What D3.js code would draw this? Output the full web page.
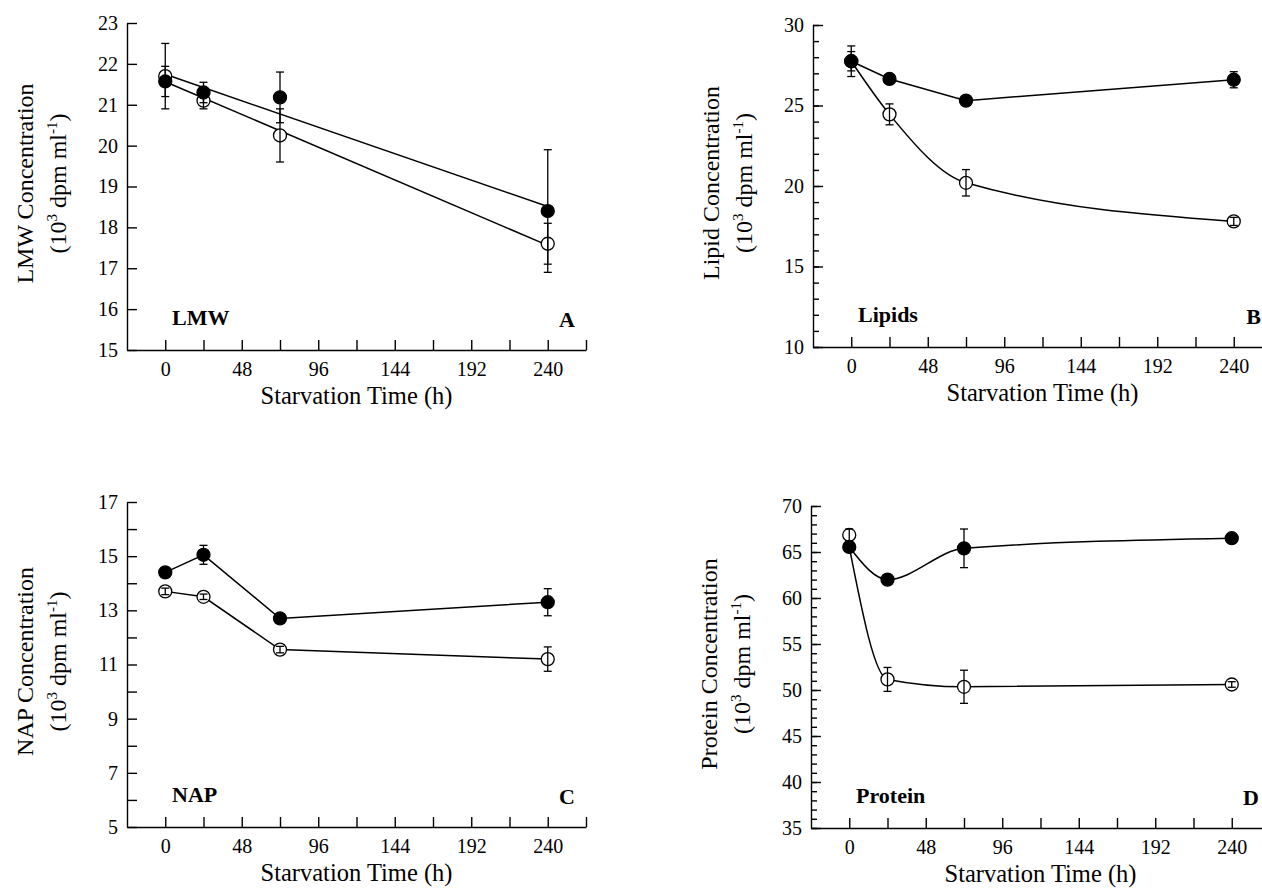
<!DOCTYPE html>
<html>
<head>
<meta charset="utf-8">
<script src="https://cdn.jsdelivr.net/npm/d3@7"></script>
<style>
body { margin: 0; background: #fff; }
svg text { font-family: "Liberation Serif", "Times New Roman", "DejaVu Serif", serif; fill: #000; }
</style>
</head>
<body>
<script>
// sampling times (h)
var times = [0, 24, 72, 240];
// x ticks every 24 h, labels every 48 h
var xTicks = [0, 24, 48, 72, 96, 120, 144, 168, 192, 216, 240, 264];
var xTickLabels = [0, 48, 96, 144, 192, 240];

// A - LMW
var lmwFilled    = [21.57, 21.3, 21.18, 18.4];
var lmwFilledErr = [0.37, 0.25, 0.62, 1.5];
var lmwOpen      = [21.7, 21.1, 20.25, 17.6];
var lmwOpenErr   = [0.8, 0.2, 0.65, 0.5];
var lmwTicks     = [15, 16, 17, 18, 19, 20, 21, 22, 23];

// B - Lipids
var lipFilled    = [27.75, 26.65, 25.3, 26.6];
var lipFilledErr = [0.95, 0.15, 0.2, 0.5];
var lipOpen      = [27.75, 24.45, 20.2, 17.8];
var lipOpenErr   = [0.6, 0.65, 0.82, 0.25];
var lipTicks     = [10, 15, 20, 25, 30];
var lipMinor     = d3.range(10, 31, 1);

// C - NAP
var napFilled    = [14.4, 15.05, 12.7, 13.3];
var napFilledErr = [0.15, 0.35, 0.15, 0.5];
var napOpen      = [13.7, 13.5, 11.55, 11.2];
var napOpenErr   = [0.12, 0.1, 0.12, 0.45];
var napTicks     = [5, 6, 7, 8, 9, 10, 11, 12, 13, 14, 15, 16, 17];
var napTickLabels = [5, 7, 9, 11, 13, 15, 17];

// D - Protein
var proFilled    = [65.55, 62.0, 65.4, 66.5];
var proFilledErr = [0.4, 0.4, 2.1, 0.3];
var proOpen      = [66.85, 51.15, 50.35, 50.6];
var proOpenErr   = [0.65, 1.3, 1.8, 0.3];
var proTicks     = [35, 40, 45, 50, 55, 60, 65, 70];
var proMinor     = d3.range(35, 71, 1);

var panels = [
  { name: "LMW", letter: "A", title: "LMW", filled: lmwFilled, filledErr: lmwFilledErr,
    open: lmwOpen, openErr: lmwOpenErr, ticks: lmwTicks, labels: lmwTicks, minor: null,
    domain: [15, 23], lineFilled: "fit", lineOpen: "fit", left: 127, top: 23, bottom: 350 },
  { name: "Lipids", letter: "B", title: "Lipid", filled: lipFilled, filledErr: lipFilledErr,
    open: lipOpen, openErr: lipOpenErr, ticks: lipTicks, labels: lipTicks, minor: lipMinor,
    domain: [10, 30], lineFilled: "linear", lineOpen: "smooth", left: 813, top: 25, bottom: 347 },
  { name: "NAP", letter: "C", title: "NAP", filled: napFilled, filledErr: napFilledErr,
    open: napOpen, openErr: napOpenErr, ticks: napTicks, labels: napTickLabels, minor: null,
    domain: [5, 17], lineFilled: "linear", lineOpen: "linear", left: 127, top: 502, bottom: 827 },
  { name: "Protein", letter: "D", title: "Protein", filled: proFilled, filledErr: proFilledErr,
    open: proOpen, openErr: proOpenErr, ticks: proTicks, labels: proTicks, minor: proMinor,
    domain: [35, 70], lineFilled: "smooth", lineOpen: "smooth", sharedStart: true,
    left: 811, top: 506, bottom: 828 }
];

var plotW = 459;
var serif = "Liberation Serif, Times New Roman, DejaVu Serif, serif";

var svg = d3.select("body").append("svg")
  .attr("width", 1262)
  .attr("height", 888)
  .attr("font-family", serif);

// least squares line over the sampled points
function regression(xs, ys) {
  var mx = d3.mean(xs), my = d3.mean(ys);
  var sxy = d3.sum(xs, function(v, i) { return (v - mx) * (ys[i] - my); });
  var sxx = d3.sum(xs, function(v) { return (v - mx) * (v - mx); });
  var b = sxy / sxx;
  return function(t) { return my + b * (t - mx); };
}

function drawPanel(p) {
  var g = svg.append("g");
  var x = d3.scaleLinear().domain([-24, 264]).range([p.left, p.left + plotW]);
  var y = d3.scaleLinear().domain(p.domain).range([p.bottom, p.top]);

  // minor y ticks
  if (p.minor) {
    g.append("g")
      .attr("transform", "translate(" + p.left + ",0)")
      .call(d3.axisLeft(y).tickValues(p.minor).tickSizeInner(-6).tickSizeOuter(0).tickFormat(""))
      .call(function(a) { a.select(".domain").remove(); });
  }

  // y axis
  g.append("g")
    .attr("class", "axis")
    .attr("transform", "translate(" + p.left + ",0)")
    .call(d3.axisLeft(y).tickValues(p.ticks).tickSizeInner(-10).tickSizeOuter(0).tickPadding(9)
      .tickFormat(function(d) { return p.labels.indexOf(d) >= 0 ? d : ""; }));

  // x axis
  g.append("g")
    .attr("class", "axis")
    .attr("transform", "translate(0," + p.bottom + ")")
    .call(d3.axisBottom(x).tickValues(xTicks).tickSizeInner(-10).tickSizeOuter(0).tickPadding(12)
      .tickFormat(function(d) { return xTickLabels.indexOf(d) >= 0 ? d : ""; }));

  g.selectAll(".axis").attr("font-size", 20).attr("font-family", serif);
  g.selectAll(".tick line, .domain").attr("stroke", "#000").attr("stroke-width", 1.4);

  // axis titles
  var cy = (p.top + p.bottom) / 2 - 3;
  g.append("text")
    .attr("transform", "translate(" + (p.left - 94) + "," + cy + ") rotate(-90)")
    .attr("text-anchor", "middle")
    .attr("font-size", 24)
    .text(p.title + " Concentration");
  var t2 = g.append("text")
    .attr("transform", "translate(" + (p.left - 61) + "," + cy + ") rotate(-90)")
    .attr("text-anchor", "middle")
    .attr("font-size", 24);
  t2.append("tspan").text("(10");
  t2.append("tspan").attr("font-size", 15).attr("dy", -9).text("3");
  t2.append("tspan").attr("dy", 9).text(" dpm ml");
  t2.append("tspan").attr("font-size", 15).attr("dy", -9).text("-1");
  t2.append("tspan").attr("dy", 9).text(")");

  g.append("text")
    .attr("x", p.left + plotW / 2)
    .attr("y", p.bottom + 54)
    .attr("text-anchor", "middle")
    .attr("font-size", 24.5)
    .text("Starvation Time (h)");

  // panel labels
  g.append("text")
    .attr("x", p.left + 45)
    .attr("y", p.bottom - 25)
    .attr("font-size", 22)
    .attr("font-weight", "bold")
    .text(p.name);
  g.append("text")
    .attr("x", p.left + 448)
    .attr("y", p.bottom - 23)
    .attr("text-anchor", "end")
    .attr("font-size", 22)
    .attr("font-weight", "bold")
    .text(p.letter);

  // lines
  function seriesLine(vals, kind, isOpen) {
    var pts = times.map(function(t, i) { return [t, vals[i]]; });
    if (isOpen && p.sharedStart) pts[0] = [times[0], p.filled[0]];
    if (kind === "fit") {
      var f = regression(times, vals);
      pts = [[times[0], f(times[0])], [times[times.length - 1], f(times[times.length - 1])]];
    }
    var line = d3.line()
      .x(function(d) { return x(d[0]); })
      .y(function(d) { return y(d[1]); })
      .curve(kind === "smooth" ? d3.curveMonotoneX : d3.curveLinear);
    g.append("path")
      .attr("d", line(pts))
      .attr("fill", "none")
      .attr("stroke", "#000")
      .attr("stroke-width", 1.5);
  }
  seriesLine(p.filled, p.lineFilled, false);
  seriesLine(p.open, p.lineOpen, true);

  // markers
  function markers(vals, isOpen) {
    g.selectAll(null)
      .data(vals)
      .enter()
      .append("circle")
      .attr("cx", function(d, i) { return x(times[i]); })
      .attr("cy", function(d) { return y(d); })
      .attr("r", 6.5)
      .attr("fill", isOpen ? "#fff" : "#000")
      .attr("stroke", "#000")
      .attr("stroke-width", 1.3);
  }
  markers(p.open, true);
  markers(p.filled, false);

  // error bars
  function errorBars(vals, errs) {
    var eb = g.selectAll(null)
      .data(vals.map(function(v, i) { return { t: times[i], v: v, e: errs[i] }; }))
      .enter()
      .append("g")
      .attr("stroke", "#000")
      .attr("stroke-width", 1.3);
    eb.append("line")
      .attr("x1", function(d) { return x(d.t); })
      .attr("x2", function(d) { return x(d.t); })
      .attr("y1", function(d) { return y(d.v - d.e); })
      .attr("y2", function(d) { return y(d.v + d.e); });
    [-1, 1].forEach(function(s) {
      eb.append("line")
        .attr("x1", function(d) { return x(d.t) - 4; })
        .attr("x2", function(d) { return x(d.t) + 4; })
        .attr("y1", function(d) { return y(d.v + s * d.e); })
        .attr("y2", function(d) { return y(d.v + s * d.e); });
    });
  }
  errorBars(p.open, p.openErr);
  errorBars(p.filled, p.filledErr);
}

panels.forEach(drawPanel);
</script>
</body>
</html>
